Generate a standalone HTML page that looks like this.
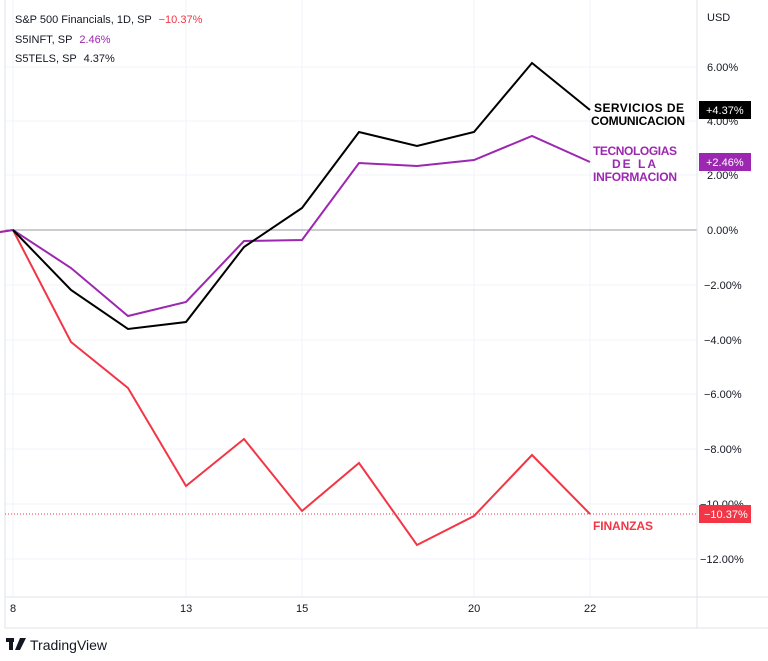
<!DOCTYPE html>
<html><head><style>
body{margin:0;background:#fff;width:768px;height:656px;overflow:hidden;font-family:"Liberation Sans",sans-serif;}
</style></head><body>
<svg width="768" height="656" xmlns="http://www.w3.org/2000/svg" font-family="Liberation Sans, sans-serif">
<rect x="0" y="0" width="768" height="656" fill="#fff"/>
<g stroke="#f0f3fa" stroke-width="1">
<line x1="13" y1="0" x2="13" y2="597"/><line x1="186" y1="0" x2="186" y2="597"/><line x1="302" y1="0" x2="302" y2="597"/><line x1="474" y1="0" x2="474" y2="597"/><line x1="590" y1="0" x2="590" y2="597"/>
<line x1="5" y1="67" x2="697" y2="67"/><line x1="5" y1="121" x2="697" y2="121"/><line x1="5" y1="175" x2="697" y2="175"/><line x1="5" y1="285" x2="697" y2="285"/><line x1="5" y1="340" x2="697" y2="340"/><line x1="5" y1="394" x2="697" y2="394"/><line x1="5" y1="449" x2="697" y2="449"/><line x1="5" y1="504" x2="697" y2="504"/><line x1="5" y1="559" x2="697" y2="559"/>
</g>
<line x1="5" y1="230" x2="697" y2="230" stroke="#9598a1" stroke-width="1"/>
<line x1="5" y1="0" x2="5" y2="628" stroke="#e0e3eb"/>
<line x1="697" y1="0" x2="697" y2="628" stroke="#e0e3eb"/>
<line x1="5" y1="597" x2="768" y2="597" stroke="#e0e3eb"/>
<line x1="5" y1="628" x2="768" y2="628" stroke="#e0e3eb"/>
<line x1="5" y1="514" x2="697" y2="514" stroke="#f23645" stroke-dasharray="1 2"/>
<polyline fill="none" stroke="#f23645" stroke-width="2" points="0,232 13,230 71,342 128,388 186,486 244,439 302,511 359,463 417,545 474,516 532,455 590,514"/>
<polyline fill="none" stroke="#9c27b0" stroke-width="2" points="0,232 13,230 71,268 128,316 186,302 244,241 302,240 359,163 417,166 474,160 532,136 590,162"/>
<polyline fill="none" stroke="#000" stroke-width="2" points="13,230 71,290 128,329 186,322 244,247 302,208 359,132 417,146 474,132 532,63 590,110"/>
<g font-size="11" fill="#131722">
<text x="707" y="21">USD</text>
<text x="707" y="71">6.00%</text><text x="707" y="125">4.00%</text><text x="707" y="179">2.00%</text><text x="707" y="234">0.00%</text>
<text x="704" y="289">−2.00%</text><text x="704" y="344">−4.00%</text><text x="704" y="398">−6.00%</text><text x="704" y="453">−8.00%</text><text x="700" y="508">−10.00%</text><text x="700" y="563">−12.00%</text>
<text x="10" y="612">8</text><text x="180" y="612">13</text><text x="296" y="612">15</text><text x="468" y="612">20</text><text x="584" y="612">22</text>
</g>
<rect x="699" y="101" width="52" height="18" fill="#000"/><text x="706" y="114" font-size="11" fill="#fff">+4.37%</text>
<rect x="699" y="153" width="52" height="18" fill="#9c27b0"/><text x="706" y="166" font-size="11" fill="#fff">+2.46%</text>
<rect x="699" y="505" width="52" height="18" fill="#f23645"/><text x="704" y="518" font-size="11" fill="#fff">−10.37%</text>
<g font-size="12" font-weight="bold" font-family="Liberation Sans Narrow, Liberation Sans, sans-serif">
<text x="594" y="112" fill="#000" textLength="90">SERVICIOS DE</text>
<text x="591" y="125" fill="#000" textLength="94">COMUNICACION</text>
<text x="593" y="155" fill="#9c27b0" textLength="84">TECNOLOGIAS</text>
<text x="635" y="168" fill="#9c27b0" text-anchor="middle" letter-spacing="2">DE LA</text>
<text x="593" y="181" fill="#9c27b0" textLength="84">INFORMACION</text>
<text x="593" y="530" fill="#f23645" textLength="60">FINANZAS</text>
</g>
<g font-size="11" fill="#131722">
<text x="15" y="23">S&amp;P 500 Financials, 1D, SP <tspan fill="#f23645" dx="4">−10.37%</tspan></text>
<text x="15" y="43">S5INFT, SP <tspan fill="#9c27b0" dx="4">2.46%</tspan></text>
<text x="15" y="62">S5TELS, SP <tspan fill="#131722" dx="4">4.37%</tspan></text>
</g>
<rect x="6" y="638" width="8" height="4" fill="#131722"/><rect x="9" y="638" width="4" height="12" fill="#131722"/><polygon points="15,650 20,638 26,638 20,650" fill="#131722"/>
<text x="30" y="650" font-size="14" fill="#131722">TradingView</text>
</svg>
</body></html>
